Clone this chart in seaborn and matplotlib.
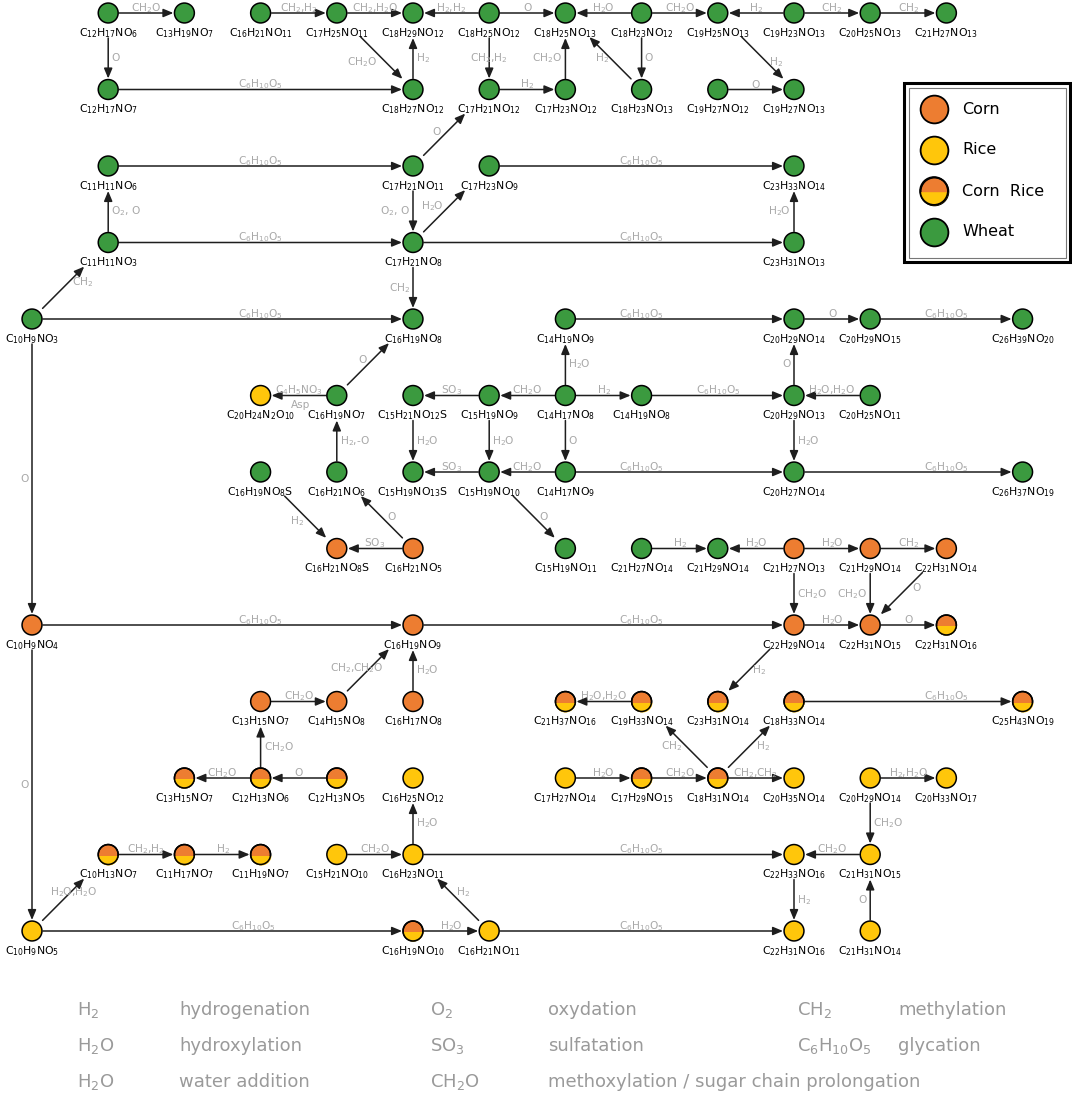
import re
import numpy as np
import pandas as pd
import matplotlib
matplotlib.use("Agg")
import matplotlib.pyplot as plt
from matplotlib.path import Path
from matplotlib.markers import MarkerStyle
from matplotlib.patches import Rectangle
import seaborn as sns

# ---------------- data ----------------
node_ids = ["A01", "A02", "A03", "A04", "A05", "A06", "A07", "A08", "A09", "A10", "A11", "A12",
            "B01", "B05", "B06", "B07", "B08", "B09", "B10",
            "C01", "C05", "C06", "C10",
            "D01", "D05", "D10",
            "E00", "E05", "E07", "E10", "E11", "E13",
            "F03", "F04", "F05", "F06", "F07", "F08", "F10", "F11",
            "G03", "G04", "G05", "G06", "G07", "G10", "G13",
            "H04", "H05", "H07", "H08", "H09", "H10", "H11", "H12",
            "I00", "I05", "I10", "I11", "I12",
            "J03", "J04", "J05", "J07", "J08", "J09", "J10", "J13",
            "K02", "K03", "K04", "K05", "K07", "K08", "K09", "K10", "K11", "K12",
            "L01", "L02", "L03", "L04", "L05", "L10", "L11",
            "M00", "M05", "M06", "M10", "M11"]

node_formulas = ["C12H17NO6", "C13H19NO7", "C16H21NO11", "C17H25NO11", "C18H29NO12", "C18H25NO12",
                 "C18H25NO13", "C18H23NO12", "C19H25NO13", "C19H23NO13", "C20H25NO13", "C21H27NO13",
                 "C12H17NO7", "C18H27NO12", "C17H21NO12", "C17H23NO12", "C18H23NO13", "C19H27NO12", "C19H27NO13",
                 "C11H11NO6", "C17H21NO11", "C17H23NO9", "C23H33NO14",
                 "C11H11NO3", "C17H21NO8", "C23H31NO13",
                 "C10H9NO3", "C16H19NO8", "C14H19NO9", "C20H29NO14", "C20H29NO15", "C26H39NO20",
                 "C20H24N2O10", "C16H19NO7", "C15H21NO12S", "C15H19NO9", "C14H17NO8", "C14H19NO8",
                 "C20H29NO13", "C20H25NO11",
                 "C16H19NO8S", "C16H21NO6", "C15H19NO13S", "C15H19NO10", "C14H17NO9", "C20H27NO14", "C26H37NO19",
                 "C16H21NO8S", "C16H21NO5", "C15H19NO11", "C21H27NO14", "C21H29NO14", "C21H27NO13",
                 "C21H29NO14", "C22H31NO14",
                 "C10H9NO4", "C16H19NO9", "C22H29NO14", "C22H31NO15", "C22H31NO16",
                 "C13H15NO7", "C14H15NO8", "C16H17NO8", "C21H37NO16", "C19H33NO14", "C23H31NO14",
                 "C18H33NO14", "C25H43NO19",
                 "C13H15NO7", "C12H13NO6", "C12H13NO5", "C16H25NO12", "C17H27NO14", "C17H29NO15",
                 "C18H31NO14", "C20H35NO14", "C20H29NO14", "C20H33NO17",
                 "C10H13NO7", "C11H17NO7", "C11H19NO7", "C15H21NO10", "C16H23NO11", "C22H33NO16", "C21H31NO15",
                 "C10H9NO5", "C16H19NO10", "C16H21NO11", "C22H31NO16", "C21H31NO14"]

W, C, R, CR = "Wheat", "Corn", "Rice", "Corn  Rice"
node_groups = [W] * 12 + [W] * 7 + [W] * 4 + [W] * 3 + [W] * 6 + \
              [R, W, W, W, W, W, W, W] + [W] * 7 + \
              [C, C, W, W, W, C, C, C] + \
              [C, C, C, C, CR] + \
              [C, C, C, CR, CR, CR, CR, CR] + \
              [CR, CR, CR, R, R, CR, CR, R, R, R] + \
              [CR, CR, CR, R, R, R, R] + \
              [R, CR, R, R, R]

edge_src = ["A01", "A03", "A04", "A06", "A06", "A08", "A08", "A10", "A10", "A11",
            "A01", "B01", "A04", "B05", "A06", "B06", "B07", "B08", "A08", "B09", "A09",
            "C01", "C05", "C06", "C05", "D10", "D01", "D01", "D05", "D05",
            "E00", "D05", "E00", "E07", "E10", "E11", "E00", "F04",
            "F04", "F07", "F06", "F07", "F07", "F08", "F11", "F10", "F10", "F05", "F06", "F07", "G04",
            "G07", "G06", "G07", "G10", "G03", "H05", "G06",
            "H05", "H08", "H10", "H10", "H11", "H10", "H11", "H12",
            "I00", "I05", "I10", "I11", "I00", "J04", "J05", "I10",
            "J03", "J08", "J10", "K03", "K09", "K09",
            "K03", "K04", "K07", "K08", "K09", "K11", "K11", "L05",
            "L01", "L02", "L04", "L05", "L11", "L10", "M11", "M00", "M06",
            "M00", "M05", "M06"]
edge_dst = ["A02", "A04", "A05", "A05", "A07", "A07", "A09", "A09", "A11", "A12",
            "B01", "B05", "B05", "A05", "B06", "B07", "A07", "A07", "B08", "B10", "B10",
            "C05", "B06", "C10", "D05", "C10", "C01", "D05", "C06", "D10",
            "D01", "E05", "E05", "E10", "E11", "E13", "I00", "E05",
            "F03", "F06", "F05", "F08", "E07", "F10", "F10", "E10", "G10", "G05", "G06", "G07", "F04",
            "G06", "G05", "G10", "G13", "H04", "G04", "H07",
            "H04", "H09", "H09", "H11", "H12", "I10", "I11", "I11",
            "I05", "I10", "I11", "I12", "M00", "I05", "I05", "J09",
            "J04", "J07", "J13", "J03", "J08", "J10",
            "K02", "K03", "K08", "K09", "K10", "K12", "L11", "K05",
            "L02", "L03", "L05", "L10", "L10", "M10", "L11", "L01", "L05",
            "M05", "M06", "M10"]
edge_reagent = ["CH2O", "CH2,H2", "CH2,H2O", "H2,H2", "O", "H2O", "CH2O", "H2", "CH2", "CH2",
                "O", "C6H10O5", "CH2O", "H2", "CH2,H2", "H2", "CH2O", "H2", "O", "O", "H2",
                "C6H10O5", "O", "C6H10O5", "O2, O", "H2O", "O2, O", "C6H10O5", "H2O", "C6H10O5",
                "CH2", "CH2", "C6H10O5", "C6H10O5", "O", "C6H10O5", "O", "O",
                "C4H5NO3", "CH2O", "SO3", "H2", "H2O", "C6H10O5", "H2O,H2O", "O", "H2O", "H2O", "H2O", "O", "H2,-O",
                "CH2O", "SO3", "C6H10O5", "C6H10O5", "H2", "O", "O",
                "SO3", "H2", "H2O", "H2O", "CH2", "CH2O", "CH2O", "O",
                "C6H10O5", "C6H10O5", "H2O", "O", "O", "CH2,CH2O", "H2O", "H2",
                "CH2O", "H2O,H2O", "C6H10O5", "CH2O", "CH2", "H2",
                "CH2O", "O", "H2O", "CH2O", "CH2,CH2", "H2,H2O", "CH2O", "H2O",
                "CH2,H2", "H2", "CH2O", "C6H10O5", "CH2O", "H2", "O", "H2O,H2O", "H2",
                "C6H10O5", "H2O", "C6H10O5"]

legend_groups = ["Corn", "Rice", "Corn  Rice", "Wheat"]
reaction_symbols = ["H2", "H2O", "H2O", "O2", "SO3", "CH2O", "CH2", "C6H10O5"]
reaction_names = ["hydrogenation", "hydroxylation", "water addition", "oxydation", "sulfatation",
                  "methoxylation / sugar chain prolongation", "methylation", "glycation"]

# ---------------- layout (grid column, row) ----------------
layout = {nid: (int(nid[1:]), "ABCDEFGHIJKLM".index(nid[0])) for nid in node_ids}
X0, DX, Y0, DY = 32.0, 76.2, 13.0, 76.5

vert_side = {("A01", "B01"): "r", ("B05", "A05"): "r", ("A06", "B06"): "c", ("B07", "A07"): "l",
             ("A08", "B08"): "r", ("C05", "D05"): "l", ("D10", "C10"): "l", ("D01", "C01"): "r",
             ("D05", "E05"): "l", ("E00", "I00"): "l", ("F07", "E07"): "r", ("F10", "E10"): "l",
             ("F10", "G10"): "r", ("F05", "G05"): "r", ("F06", "G06"): "r", ("F07", "G07"): "r",
             ("G04", "F04"): "r", ("H10", "I10"): "r", ("H11", "I11"): "l", ("I00", "M00"): "l",
             ("J05", "I05"): "r", ("K03", "J03"): "r", ("K11", "L11"): "r", ("L05", "K05"): "r",
             ("L10", "M10"): "r", ("M11", "L11"): "l"}
diag_off = {("A04", "B05"): (-20, 4), ("C05", "B06"): (-8, -2), ("D05", "C06"): (-12, -5),
            ("B08", "A07"): (-8, 0), ("A09", "B10"): (13, 4), ("E00", "D01"): (19, -5),
            ("F04", "E05"): (-6, -4), ("G03", "H04"): (-8, 4), ("H05", "G04"): (10, 0),
            ("G06", "H07"): (10, 0), ("H12", "I11"): (15, -5), ("J04", "I05"): (-11, -2),
            ("I10", "J09"): (10, 0), ("K09", "J08"): (-15, 0), ("K09", "J10"): (14, 0),
            ("M00", "L01"): (10, -7), ("M06", "L05"): (5, -7)}
label_col = {("E00", "E05"): 3, ("I00", "I05"): 3, ("M00", "M05"): 2.9, ("E07", "E10"): 8,
             ("G07", "G10"): 8, ("G10", "G13"): 12, ("J10", "J13"): 12, ("L05", "L10"): 8,
             ("I05", "I10"): 8, ("D05", "D10"): 8}

ORANGE, YELLOW, GREEN = "#ED7D31", "#FFC60B", "#3B9A3F"
palette = {"Corn": ORANGE, "Rice": YELLOW, "Corn  Rice": ORANGE, "Wheat": GREEN}
EDGE_TXT = "#a8a8a8"
LEG_TXT = "#9a9a9a"
EFS = 7.6


def chem(s):
    return re.sub(r"(\d+)", r"$_{\1}$", s)


def px(nid):
    c, r = layout[nid]
    return X0 + DX * c, Y0 + DY * r


sns.set_style("white")
plt.rcParams["font.family"] = ["DejaVu Sans"]
plt.rcParams["mathtext.fontset"] = "dejavusans"

fig = plt.figure(figsize=(10.72, 10.93), dpi=100)
ax = fig.add_axes([0, 0, 1, 1])

# ---------------- edges ----------------
for s, d, lab in zip(edge_src, edge_dst, edge_reagent):
    x1, y1 = px(s)
    x2, y2 = px(d)
    vx, vy = x2 - x1, y2 - y1
    L = np.hypot(vx, vy)
    ux, uy = vx / L, vy / L
    if abs(vy) < 1e-6:
        sh1, sh2 = 11, 11
        kind = "h"
    elif abs(vx) < 1e-6:
        kind = "v"
        sh1, sh2 = (25, 11) if y1 < y2 else (11, 25)
    else:
        kind = "d"
        sh1, sh2 = (34, 15) if y1 < y2 else (15, 34)
    sx, sy = x1 + ux * sh1, y1 + uy * sh1
    ex, ey = x2 - ux * sh2, y2 - uy * sh2
    ax.annotate("", xy=(ex, ey), xytext=(sx, sy),
                arrowprops=dict(arrowstyle="-|>,head_length=0.6,head_width=0.25", mutation_scale=10,
                                lw=1.1, color="#1e1e1e", shrinkA=0, shrinkB=0), zorder=1)
    mx, my = (sx + ex) / 2, (sy + ey) / 2
    if kind == "h":
        if (s, d) in label_col:
            mx = X0 + DX * label_col[(s, d)]
        ax.text(mx, my - 2, chem(lab), ha="center", va="baseline", fontsize=EFS, color=EDGE_TXT, zorder=4)
        if lab == "C4H5NO3":
            ax.text(mx + 2, my + 9, "Asp", ha="center", va="center", fontsize=EFS, color=EDGE_TXT, zorder=4)
    elif kind == "v":
        side = vert_side.get((s, d), "r")
        if side == "r":
            ax.text(mx + 3, my, chem(lab), ha="left", va="center", fontsize=EFS, color=EDGE_TXT, zorder=4)
        elif side == "l":
            ax.text(mx - 3, my, chem(lab), ha="right", va="center", fontsize=EFS, color=EDGE_TXT, zorder=4)
        else:
            ax.text(mx, my, chem(lab), ha="center", va="center", fontsize=EFS, color=EDGE_TXT, zorder=4)
    else:
        ox, oy = diag_off.get((s, d), (8, 0))
        ax.text(mx + ox, my + oy, chem(lab), ha="center", va="center", fontsize=EFS, color=EDGE_TXT, zorder=4)

# ---------------- nodes ----------------
df = pd.DataFrame({"id": node_ids, "formula": node_formulas, "group": node_groups})
df["x"] = [px(n)[0] for n in node_ids]
df["y"] = [px(n)[1] for n in node_ids]

NODE_S = 205
sns.scatterplot(data=df, x="x", y="y", hue="group", palette=palette, s=NODE_S,
                edgecolor="black", linewidth=1.1, legend=False, zorder=3, ax=ax)

t = np.linspace(np.pi + 0.05, 2 * np.pi - 0.05, 60)
half_path = Path(np.vstack([np.column_stack([np.cos(t), np.sin(t)]), [[np.cos(t[0]), np.sin(t[0])]]]))
half_marker = MarkerStyle(half_path)

mix = df[df["group"] == "Corn  Rice"]
ax.scatter(mix["x"], mix["y"], s=NODE_S, marker=half_marker, color=YELLOW, linewidths=0, zorder=3.5)
ax.scatter(mix["x"], mix["y"], s=NODE_S, marker="o", facecolors="none", edgecolors="black",
           linewidths=1.1, zorder=3.6)

for _, row in df.iterrows():
    lx = max(row["x"], 28)
    ax.text(lx, row["y"] + 23, chem(row["formula"]), ha="center", va="baseline",
            fontsize=7.8, color="black", zorder=4)

# ---------------- group legend box ----------------
ax.add_patch(Rectangle((904, 83), 166, 179, fill=False, lw=2.2, ec="black", zorder=5))
ax.add_patch(Rectangle((908.5, 87.5), 157, 170, fill=False, lw=0.8, ec="#777777", zorder=5))
LEG_S = 400
for i, g in enumerate(legend_groups):
    ly = 109 + 41 * i
    ax.scatter([934], [ly], s=LEG_S, color=palette[g], edgecolors="black", linewidths=1.3, zorder=6)
    if g == "Corn  Rice":
        ax.scatter([934], [ly], s=LEG_S, marker=half_marker, color=YELLOW, linewidths=0, zorder=6.5)
        ax.scatter([934], [ly], s=LEG_S, facecolors="none", edgecolors="black", linewidths=1.3, zorder=6.6)
    ax.text(962, ly, g, ha="left", va="center", fontsize=11.5, color="black", zorder=6)

# ---------------- reaction key ----------------
key_sym_x = [77, 77, 77, 430, 430, 430, 797, 797]
key_name_x = [179, 179, 179, 548, 548, 548, 898, 898]
key_y = [1015, 1051, 1087, 1015, 1051, 1087, 1015, 1051]
for sym, name, xs, xn, yb in zip(reaction_symbols, reaction_names, key_sym_x, key_name_x, key_y):
    ax.text(xs, yb, chem(sym), ha="left", va="baseline", fontsize=13, color=LEG_TXT)
    ax.text(xn, yb, name, ha="left", va="baseline", fontsize=13, color=LEG_TXT)

ax.set_xlim(0, 1072)
ax.set_ylim(1093, 0)
ax.axis("off")
fig.savefig("out.png", dpi=100, facecolor="white")
